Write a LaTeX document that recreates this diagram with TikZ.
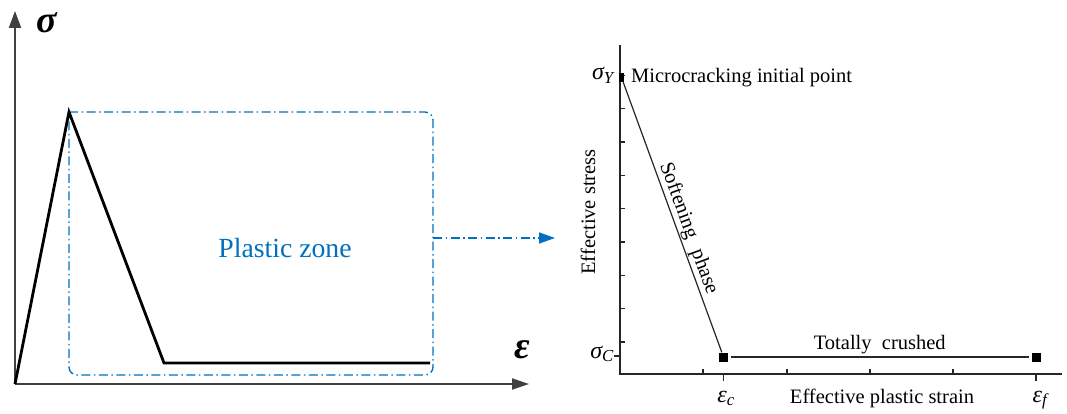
\documentclass[tikz,border=0pt]{standalone}
\usepackage{fontspec}
\setmainfont{Liberation Serif}
\usetikzlibrary{arrows.meta,positioning}
\definecolor{zoneblue}{RGB}{0,112,192}

\begin{document}
\begin{tikzpicture}[x=1pt, y=-1pt,
        axis/.style={draw=black!75, line width=2pt},
        curve/.style={line width=2.8pt, line join=miter},
        zone/.style={draw=zoneblue, line width=1.4pt, dash pattern=on 9pt off 3.5pt on 1.5pt off 3.5pt},
        thin/.style={draw=black!85, line width=1.2pt},
        marker/.style={fill=black, inner sep=0pt, minimum size=9pt},
        lbl/.style={font=\fontsize{20.5}{24}\selectfont, inner sep=1pt},
        sym/.style={font=\fontsize{24}{26}\selectfont\itshape, inner sep=1pt},
        big/.style={font=\fontsize{38}{40}\selectfont\bfseries\itshape, inner sep=0pt}
    ]
    \useasboundingbox (0,0) rectangle (1067,414);

    % left part: sketch of the law
    \coordinate (o) at (15,384);
    \coordinate (ytop) at (15,11);
    \coordinate (xend) at (529,384);
    \draw[axis, -{Triangle[length=17pt,width=12pt]}] (o) -- (ytop);
    \draw[axis, -{Triangle[length=17pt,width=11pt]}] (o) -- (xend);
    \node[big] (sig) at (47,23) {σ};
    \node[big] (eps) at (522,350) {ε};

    \coordinate (peak) at (69,112);
    \coordinate (knee) at (164,363);
    \coordinate (tail) at (430,363);
    \coordinate (zne) at (433,112);
    \coordinate (zse) at (433,375);
    \coordinate (zsw) at (69,375);
    \draw[zone] (peak) {[rounded corners=8pt] -- (zne) -- (zse) -- (zsw)} -- cycle;
    \draw[curve] (o) -- (peak) -- (knee) -- (tail);
    \node[font=\fontsize{27.7}{30}\selectfont, text=zoneblue] (pz) at (285,248) {Plastic zone};

    \coordinate (zmid) at (433,238);
    \coordinate (pointer) at (555,238);
    \draw[zone, -{Triangle[length=16pt,width=11pt]}] (zmid) -- (pointer);

    % right part: effective stress vs. effective plastic strain
    \coordinate (O) at (620,374);
    \coordinate (Ytop) at (620,45);
    \coordinate (Xend) at (1062,374);
    \draw[thin] (Ytop) -- (O) -- (Xend);
    \foreach \k in {0,...,8}
        \draw[thin] (620,{342-33.33*\k}) -- ++(5,0);
    \foreach \x in {703,787,870,953}
        \draw[thin] (\x,374) -- ++(0,-5);
    \draw[thin] (620,356) -- ++(-6,0);
    \draw[thin] (723.5,374) -- ++(0,7);
    \draw[thin] (1036,374) -- ++(0,7);

    \node[marker, minimum width=5pt, minimum height=9pt] (my) at (621.5,77.5) {};
    \node[marker] (mc) at (723.5,357) {};
    \node[marker] (mf) at (1036,357) {};
    \draw[thin] (my) -- node[lbl, sloped, above, pos=0.556] (soft) {Softening\hspace{0.6em}phase} (mc);
    \draw[thin, shorten <=2.5pt, shorten >=2.5pt] (mc) -- node[lbl, above=1pt] (crush) {Totally\ \ crushed} (mf);

    \node[lbl, anchor=base west] (micro) at (630,83) {Microcracking initial point};
    \node[sym, anchor=base east] (sy) at (615,80) {σ\textsubscript{Y}};
    \node[sym, anchor=base east] (sc) at (615,358) {σ\textsubscript{C}};
    \node[sym, anchor=base] (ec) at (726,402) {ε\textsubscript{c}};
    \node[sym, anchor=base] (ef) at (1040,402) {ε\textsubscript{f}};
    \node[lbl, anchor=base] (xlab) at (882,403) {Effective plastic strain};
    \node[lbl, rotate=90] (ylab) at (588,212) {Effective stress};

\end{tikzpicture}
\end{document}
